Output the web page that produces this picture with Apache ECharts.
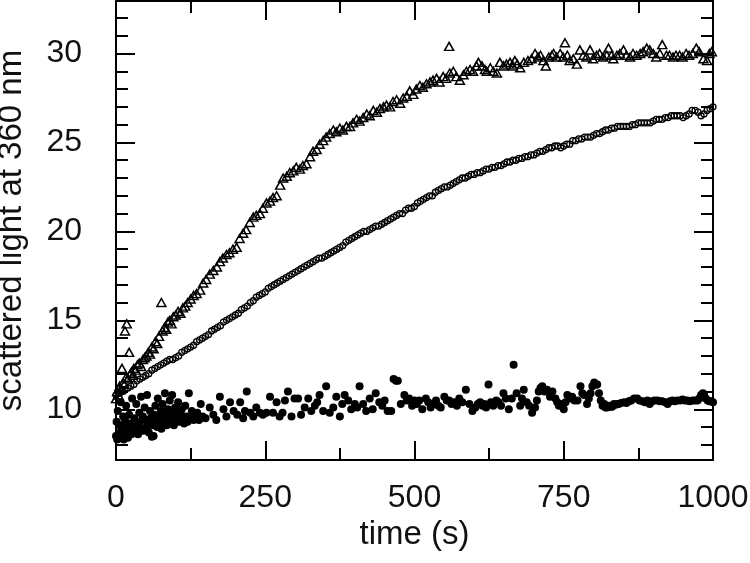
<!DOCTYPE html>
<html>
<head>
<meta charset="utf-8" />
<title>scattered light</title>
<script src="https://cdn.jsdelivr.net/npm/echarts@6/dist/echarts.min.js"></script>
<style>
  html, body { margin: 0; padding: 0; background: #fff; }
  #chart { width: 750px; height: 563px; }
</style>
</head>
<body>
<div id="chart"></div>
<script>
// x tick values and y tick values
var xTicks = [0, 250, 500, 750, 1000];
var yMajor = [10, 15, 20, 25, 30];
var yMinor = [8, 9, 11, 12, 13, 14, 16, 17, 18, 19, 21, 22, 23, 24, 26, 27, 28, 29, 31, 32];

// open triangles  [time, value]
var triangles = [
  [0,10.6],[2,11.0],[4,10.8],[6,11.3],[8,11.1],[10,12.3],[12,11.5],[14,11.4],[15,14.4],[17,11.8],
  [18,14.8],[20,11.7],[22,13.2],[24,12.0],[26,12.1],[28,11.9],[30,12.3],[33,12.2],[36,12.5],[39,12.6],
  [42,12.4],[45,12.8],[48,12.9],[51,13.0],[54,13.2],[57,13.1],[60,13.5],[63,13.4],[66,13.8],[69,13.7],
  [72,14.1],[76,16.0],[78,14.4],[81,14.6],[84,14.5],[87,14.9],[90,15.0],[93,14.8],[96,15.2],[100,15.3],
  [104,15.5],[108,15.4],[112,15.7],[116,15.8],[120,16.0],[125,16.2],[130,16.4],[135,16.5],[141,16.7],[146,17.1],
  [151,17.3],[157,17.6],[163,17.8],[169,18.0],[174,18.3],[179,18.5],[185,18.7],[190,18.8],[196,19.0],[202,19.1],
  [207,19.6],[213,19.9],[218,20.1],[224,20.5],[230,20.8],[235,20.9],[241,21.0],[246,21.3],[252,21.6],[258,21.7],
  [263,21.9],[269,22.0],[275,22.6],[280,23.0],[286,23.1],[291,23.3],[297,23.4],[302,23.6],[308,23.5],[313,23.7],
  [319,23.8],[325,24.2],[330,24.5],[336,24.6],[341,24.9],[347,25.1],[352,25.3],[358,25.5],[364,25.7],[369,25.6],
  [375,25.8],[380,25.7],[386,25.9],[392,25.9],[397,26.1],[403,26.3],[408,26.2],[414,26.4],[420,26.6],[425,26.5],
  [431,26.8],[437,26.7],[442,26.9],[448,27.0],[453,27.1],[459,27.0],[464,27.3],[470,27.4],[476,27.2],[481,27.5],
  [487,27.6],[492,27.9],[498,27.7],[503,28.0],[509,28.2],[514,28.1],[520,28.3],[526,28.4],[531,28.5],[537,28.6],
  [542,28.4],[548,28.7],[553,28.6],[558,30.4],[559,28.9],[565,29.0],[570,28.7],[576,28.5],[582,28.8],[587,29.0],
  [593,29.1],[598,29.0],[604,29.3],[607,29.5],[613,29.3],[618,29.1],[621,29.0],[627,29.2],[632,29.0],[638,28.9],
  [643,29.5],[649,29.3],[654,29.4],[660,29.5],[665,29.3],[668,29.6],[672,29.4],[677,29.2],[683,29.5],[690,29.6],
  [696,29.7],[702,30.0],[707,29.8],[711,29.9],[716,29.6],[720,29.3],[725,29.8],[730,29.9],[733,30.0],[738,29.8],
  [744,30.0],[749,29.8],[752,30.6],[756,29.9],[760,29.6],[766,29.7],[772,29.4],[777,30.2],[783,29.9],[788,29.8],
  [794,30.2],[799,29.7],[805,29.9],[810,30.0],[816,29.8],[822,29.9],[825,30.3],[830,29.9],[833,29.7],[839,29.9],
  [844,30.0],[850,30.2],[855,29.9],[861,29.8],[866,30.0],[872,29.9],[878,30.0],[883,30.1],[889,30.3],[894,30.2],
  [900,30.0],[905,29.8],[911,30.0],[915,30.5],[922,29.9],[927,29.9],[933,29.8],[938,29.9],[944,29.9],[949,29.8],
  [955,30.0],[960,29.9],[966,30.0],[972,30.3],[977,30.1],[984,29.7],[990,29.6],[994,30.0],[998,30.1]
];

// open circles  [time, value]
var circles = [
  [0,10.8],[5,10.9],[10,11.0],[15,11.1],[20,11.2],[25,11.3],[30,11.4],[35,11.6],[40,11.7],[45,11.8],
  [50,11.9],[55,12.0],[60,12.2],[65,12.3],[70,12.4],[75,12.5],[80,12.6],[85,12.7],[90,12.8],[95,12.8],
  [100,12.9],[105,13.0],[110,13.2],[115,13.3],[120,13.4],[125,13.5],[130,13.6],[135,13.8],[140,13.9],[145,14.0],
  [150,14.1],[155,14.2],[160,14.4],[165,14.5],[170,14.6],[175,14.7],[180,14.9],[185,15.0],[190,15.1],[195,15.2],
  [200,15.3],[205,15.4],[210,15.6],[215,15.7],[220,15.8],[225,16.0],[230,16.1],[235,16.3],[240,16.4],[245,16.5],
  [250,16.6],[255,16.8],[260,16.9],[265,17.0],[270,17.1],[275,17.2],[280,17.3],[285,17.4],[290,17.5],[295,17.6],
  [300,17.7],[305,17.8],[310,17.9],[315,18.0],[320,18.1],[325,18.2],[330,18.3],[335,18.4],[340,18.5],[345,18.5],
  [350,18.6],[355,18.7],[360,18.8],[365,18.9],[370,19.0],[375,19.1],[380,19.2],[385,19.4],[390,19.5],[395,19.6],
  [400,19.7],[405,19.8],[410,19.9],[415,20.0],[420,20.0],[425,20.1],[430,20.2],[435,20.3],[440,20.3],[445,20.4],
  [450,20.5],[455,20.6],[460,20.7],[465,20.8],[470,20.9],[475,21.0],[480,21.0],[485,21.2],[490,21.3],[495,21.3],
  [500,21.4],[505,21.6],[510,21.7],[515,21.8],[520,21.9],[525,22.0],[530,22.0],[535,22.2],[540,22.3],[545,22.4],
  [550,22.5],[555,22.5],[560,22.6],[565,22.7],[570,22.8],[575,22.9],[580,23.0],[585,23.0],[590,23.1],[595,23.2],
  [600,23.2],[605,23.3],[610,23.3],[615,23.4],[620,23.5],[625,23.5],[630,23.6],[635,23.6],[640,23.7],[645,23.7],
  [650,23.8],[655,23.9],[660,23.9],[665,24.0],[670,24.0],[675,24.1],[680,24.1],[685,24.2],[690,24.2],[695,24.3],
  [700,24.3],[705,24.4],[710,24.5],[715,24.5],[720,24.6],[725,24.7],[730,24.7],[735,24.8],[740,24.8],[745,24.7],
  [750,24.8],[755,24.9],[760,24.9],[765,25.1],[770,25.1],[775,25.2],[780,25.2],[785,25.3],[790,25.3],[795,25.3],
  [800,25.4],[805,25.5],[810,25.5],[815,25.6],[820,25.7],[825,25.7],[830,25.8],[835,25.8],[840,25.9],[845,25.9],
  [850,25.9],[855,25.9],[860,25.9],[865,26.0],[870,26.0],[875,26.1],[880,26.1],[885,26.1],[890,26.1],[895,26.1],
  [900,26.2],[905,26.3],[910,26.3],[915,26.3],[920,26.4],[925,26.4],[930,26.5],[935,26.5],[940,26.5],[945,26.5],
  [950,26.4],[955,26.5],[960,26.6],[965,26.8],[970,26.8],[975,26.7],[980,26.5],[985,26.6],[990,26.8],[995,26.9],
  [1000,27.0]
];

// filled dots  [time, value]
var dots = [
  [0,8.5],[1,9.3],[2,8.3],[3,9.9],[4,8.6],[5,8.4],[6,9.1],[7,8.7],[8,10.4],[9,8.4],
  [10,9.0],[11,8.6],[12,9.6],[13,8.3],[14,8.8],[15,9.4],[16,8.5],[17,10.2],[18,8.7],[19,9.0],
  [20,8.4],[22,9.7],[23,8.8],[24,9.2],[26,8.6],[27,10.6],[28,9.0],[30,8.7],[31,9.5],[33,8.9],
  [34,10.3],[36,9.1],[37,8.6],[39,9.8],[40,9.3],[42,10.7],[43,8.9],[45,9.6],[46,8.8],[48,10.1],
  [49,9.4],[51,9.0],[52,10.8],[54,9.2],[55,8.7],[57,9.9],[58,9.5],[60,8.45],[61,9.1],[63,8.5],
  [64,9.7],[66,10.2],[67,9.3],[69,9.0],[70,10.6],[72,9.6],[73,9.2],[75,9.9],[76,8.9],[78,10.3],
  [79,9.4],[81,9.8],[82,10.9],[84,9.3],[85,9.1],[87,10.0],[88,9.6],[90,10.5],[91,9.2],[93,9.8],
  [94,10.8],[96,9.5],[97,9.1],[99,10.1],[100,9.4],[102,9.7],[104,10.4],[106,9.3],[108,9.8],[110,10.0],
  [112,9.5],[114,9.2],[116,10.2],[118,9.6],[120,9.3],[122,10.9],[125,9.5],[127,9.9],[130,9.4],[133,9.6],
  [136,9.8],[139,9.4],[142,10.3],[145,9.6],[150,9.5],[157,10.1],[163,9.7],[168,9.4],[174,10.7],[180,10.0],
  [185,9.6],[191,10.4],[197,9.9],[203,9.7],[208,10.4],[213,9.5],[216,9.9],[219,11.0],[225,9.8],[230,9.6],
  [235,10.1],[241,9.8],[246,9.7],[252,9.8],[258,10.7],[263,9.8],[269,10.4],[274,9.6],[279,9.8],[283,10.5],
  [288,11.0],[294,9.6],[299,10.6],[305,10.6],[310,9.7],[316,10.1],[322,10.6],[327,9.9],[333,10.2],[337,10.4],
  [341,10.8],[347,9.9],[352,11.3],[358,9.8],[364,10.1],[369,10.7],[375,9.6],[379,10.3],[383,10.8],[389,10.5],
  [394,10.0],[400,10.3],[404,10.1],[408,11.3],[414,10.3],[419,9.9],[425,10.6],[430,10.0],[435,10.9],[441,10.4],
  [446,10.2],[450,10.5],[455,9.9],[461,9.9],[465,11.7],[469,11.6],[472,11.6],[477,10.3],[483,10.8],[487,10.5],
  [491,10.6],[496,10.2],[500,10.5],[504,10.3],[508,10.5],[513,10.0],[519,10.6],[523,10.4],[527,10.1],[532,10.3],
  [536,10.5],[540,10.2],[544,10.1],[550,10.7],[554,10.5],[558,10.5],[562,10.3],[567,10.4],[571,10.2],[575,10.6],
  [580,10.4],[586,11.1],[592,10.3],[597,9.9],[602,10.1],[606,10.3],[610,10.4],[614,10.2],[617,10.3],[620,10.1],
  [624,11.4],[628,10.4],[632,10.2],[637,10.5],[641,10.4],[645,10.2],[649,10.9],[653,10.6],[658,10.0],[663,10.6],
  [666,12.5],[671,10.9],[677,10.2],[680,10.6],[683,11.1],[688,10.4],[692,10.2],[697,9.8],[702,10.1],[705,10.5],
  [708,11.0],[711,11.2],[714,11.3],[718,11.0],[722,11.1],[727,10.7],[731,11.0],[736,10.6],[739,10.4],[742,10.2],
  [746,10.3],[750,10.0],[753,10.4],[756,10.8],[760,10.6],[764,10.7],[768,10.5],[773,10.5],[778,11.3],[781,10.9],
  [784,10.8],[789,10.3],[792,10.6],[795,10.9],[798,11.3],[801,11.5],[804,11.4],[806,11.4],[809,10.9],[812,10.5],
  [815,10.2],[818,10.3],[820,10.1],[823,10.1],[826,10.2],[828,10.15],[831,10.15],[834,10.3],[837,10.25],[840,10.3],
  [842,10.3],[846,10.35],[851,10.4],[855,10.35],[859,10.45],[863,10.5],[868,10.6],[873,10.6],[877,10.5],[882,10.45],
  [886,10.4],[890,10.5],[894,10.3],[898,10.45],[902,10.5],[907,10.5],[911,10.45],[915,10.45],[920,10.4],[924,10.3],
  [928,10.45],[932,10.5],[936,10.45],[940,10.5],[945,10.5],[949,10.55],[953,10.5],[957,10.5],[961,10.45],[966,10.5],
  [970,10.5],[974,10.5],[977,10.6],[980,10.8],[983,10.9],[985,10.85],[988,10.6],[991,10.5],[994,10.45],[997,10.45],
  [1000,10.4]
];

var fontName = 'Liberation Sans, Arial, Helvetica, sans-serif';
var ink = '#000';
var lineSt = {color: ink, width: 2};

function xAx(pos, labels) {
  return {
    type: 'value', position: pos, min: 0, max: 1000, interval: 250,
    axisLine: {show: true, onZero: false, lineStyle: lineSt},
    axisTick: {show: true, inside: true, length: 19, lineStyle: lineSt},
    minorTick: {show: true, splitNumber: 2, length: 12, lineStyle: lineSt},
    axisLabel: {
      show: labels, fontSize: 32, margin: 22, color: '#111', fontFamily: fontName,
      formatter: function (v) { return String(v); }
    },
    splitLine: {show: false},
    name: labels ? 'time (s)' : '',
    nameLocation: 'middle', nameGap: 54,
    nameTextStyle: {fontSize: 33, color: '#111', fontFamily: fontName}
  };
}

function yAx(pos, ticks, len, labels, line) {
  return {
    type: 'value', position: pos, min: 7.15, max: 32.95,
    axisLine: {show: line, onZero: false, lineStyle: lineSt},
    axisTick: {show: true, inside: true, length: len, customValues: ticks, lineStyle: lineSt},
    axisLabel: {show: labels, customValues: ticks, fontSize: 32, margin: 34, color: '#111', fontFamily: fontName},
    splitLine: {show: false},
    name: labels ? 'scattered light at 360 nm' : '',
    nameLocation: 'middle', nameGap: 88,
    nameTextStyle: {fontSize: 33, color: '#111', fontFamily: fontName}
  };
}

var chart = echarts.init(document.getElementById('chart'));
var option = {
  animation: false,
  backgroundColor: '#fff',
  grid: {left: 116, right: 37, top: 1, bottom: 103, containLabel: false, outerBoundsMode: 'none'},
  xAxis: [xAx('bottom', true), xAx('top', false)],
  yAxis: [
    yAx('left', yMajor, 19, true, true),
    yAx('left', yMinor, 12, false, false),
    yAx('right', yMajor, 19, false, true),
    yAx('right', yMinor, 12, false, false)
  ],
  series: [
    {
      type: 'scatter', name: 'dots', data: dots,
      symbol: 'circle', symbolSize: 8,
      itemStyle: {color: ink, opacity: 1}
    },
    {
      type: 'scatter', name: 'circles', data: circles,
      symbol: 'circle', symbolSize: 6,
      itemStyle: {color: 'rgba(0,0,0,0)', borderColor: ink, borderWidth: 1.3, opacity: 1}
    },
    {
      type: 'scatter', name: 'triangles', data: triangles,
      symbol: 'triangle', symbolSize: [9, 8],
      itemStyle: {color: 'rgba(0,0,0,0)', borderColor: ink, borderWidth: 1.5, opacity: 1}
    }
  ]
};
chart.setOption(option);
</script>
</body>
</html>
